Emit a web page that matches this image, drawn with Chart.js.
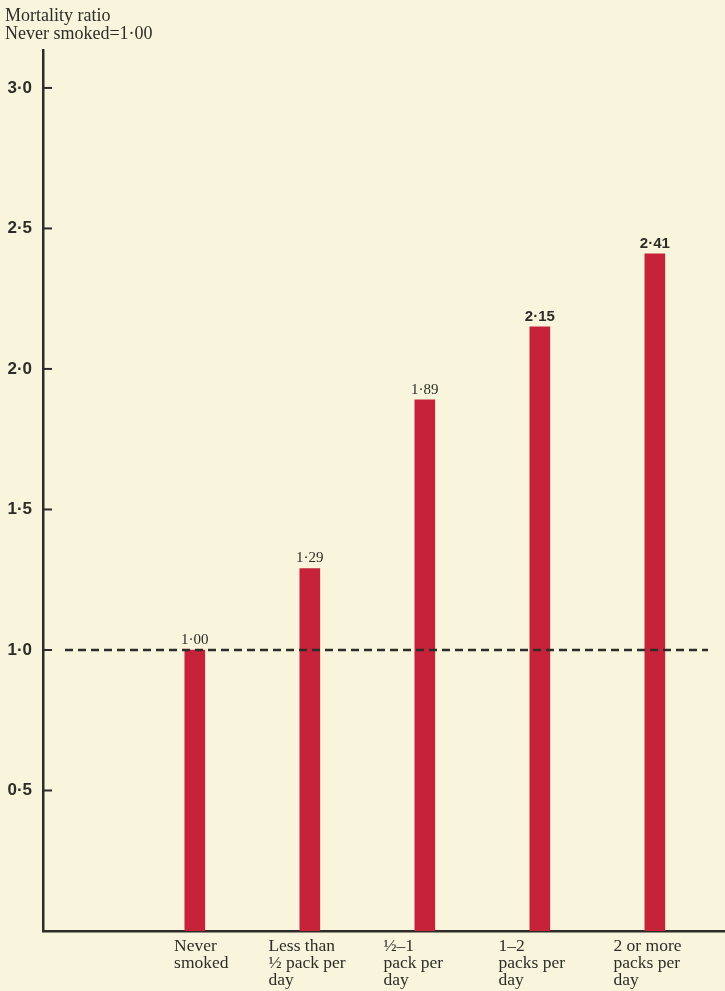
<!DOCTYPE html>
<html>
<head>
<meta charset="utf-8">
<script src="https://cdn.jsdelivr.net/npm/chart.js@4.4.0/dist/chart.umd.min.js"></script>
<style>
html, body { margin: 0; padding: 0; background: #f8f5dc; }
#wrap { width: 725px; height: 991px; position: relative; }
</style>
</head>
<body>
<div id="wrap"><canvas id="mortalityChart"></canvas></div>
<script>
// smoking categories and mortality ratios (never smoked = 1.00)
var categories = [
  ["Never", "smoked"],
  ["Less than", "½ pack per", "day"],
  ["½–1", "pack per", "day"],
  ["1–2", "packs per", "day"],
  ["2 or more", "packs per", "day"]
];
var ratios = [1.00, 1.29, 1.89, 2.15, 2.41];
var yTicks = [0.5, 1.0, 1.5, 2.0, 2.5, 3.0];
var yTickLabels = ["0·5", "1·0", "1·5", "2·0", "2·5", "3·0"];
var baseline = 1.0;

var ink = "#2d2c28";
var barRed = "#c6233a";

// dashed reference line at ratio 1.0
var refLine = {
  id: "refLine",
  afterDatasetsDraw: function(chart) {
    var ctx = chart.ctx, area = chart.chartArea;
    var y = chart.scales.y.getPixelForValue(baseline);
    ctx.save();
    ctx.strokeStyle = ink;
    ctx.lineWidth = 2.5;
    ctx.setLineDash([8, 5]);
    ctx.beginPath();
    ctx.moveTo(area.left + 22, y);
    ctx.lineTo(area.right - 17, y);
    ctx.stroke();
    ctx.restore();
  }
};

// value labels above each bar
var barLabels = {
  id: "barLabels",
  afterDatasetsDraw: function(chart) {
    var ctx = chart.ctx;
    var meta = chart.getDatasetMeta(0);
    ctx.save();
    ctx.fillStyle = ink;
    ctx.textAlign = "center";
    ctx.textBaseline = "alphabetic";
    meta.data.forEach(function(bar, i) {
      ctx.font = i >= 3 ? 'bold 15px "Liberation Sans"' : '15px "Liberation Serif"';
      ctx.fillText(ratios[i].toFixed(2).replace(".", "·"), bar.x, bar.y - 6);
    });
    ctx.restore();
  }
};

// short tick marks on the inside of the y axis
var innerTicks = {
  id: "innerTicks",
  afterDraw: function(chart) {
    var ctx = chart.ctx, scale = chart.scales.y;
    var left = chart.chartArea.left;
    ctx.save();
    ctx.strokeStyle = ink;
    ctx.lineWidth = 2;
    yTicks.forEach(function(v) {
      var y = scale.getPixelForValue(v);
      ctx.beginPath();
      ctx.moveTo(left, y);
      ctx.lineTo(left + 9, y);
      ctx.stroke();
    });
    ctx.restore();
  }
};

var ctx = document.getElementById("mortalityChart").getContext("2d");
var chart = new Chart(ctx, {
  type: "bar",
  data: {
    datasets: [{
      data: ratios.map(function(v, i) { return { x: i + 1, y: v }; }),
      backgroundColor: barRed,
      borderWidth: 0,
      barThickness: 20
    }]
  },
  options: {
    responsive: true,
    maintainAspectRatio: false,
    animation: false,
    layout: { padding: { left: 5, top: 0, right: 0, bottom: 0 } },
    plugins: {
      legend: { display: false },
      tooltip: { enabled: false },
      title: {
        display: true,
        text: ["Mortality ratio", "Never smoked=1·00"],
        align: "start",
        color: ink,
        font: { family: "Liberation Serif", size: 18, weight: "normal", lineHeight: 1.0 },
        padding: { top: 7, bottom: 7 }
      }
    },
    scales: {
      x: {
        type: "linear",
        offset: false,
        min: -0.32,
        max: 5.61,
        grid: { display: false, drawTicks: false },
        border: { color: ink, width: 2.5 },
        afterBuildTicks: function(scale) {
          scale.ticks = categories.map(function(c, i) {
            return { value: i + 1 - (i === 0 ? 0.18 : 0.36) };
          });
        },
        afterFit: function(scale) { scale.height = 60; },
        ticks: {
          autoSkip: false,
          maxRotation: 0,
          align: "start",
          padding: 7,
          color: ink,
          font: { family: "Liberation Serif", size: 17.5, lineHeight: 0.98 },
          callback: function(value, index) { return categories[index]; }
        }
      },
      y: {
        min: 0,
        max: 3.135,
        grid: { display: false, drawTicks: false },
        border: { color: ink, width: 2.5 },
        afterBuildTicks: function(scale) {
          scale.ticks = yTicks.map(function(v) { return { value: v }; });
        },
        afterFit: function(scale) { scale.width = 38; },
        ticks: {
          padding: 11,
          color: ink,
          font: { family: "Liberation Sans", size: 17, weight: "bold" },
          callback: function(value, index) { return yTickLabels[index]; }
        }
      }
    }
  },
  plugins: [refLine, barLabels, innerTicks]
});
</script>
</body>
</html>
